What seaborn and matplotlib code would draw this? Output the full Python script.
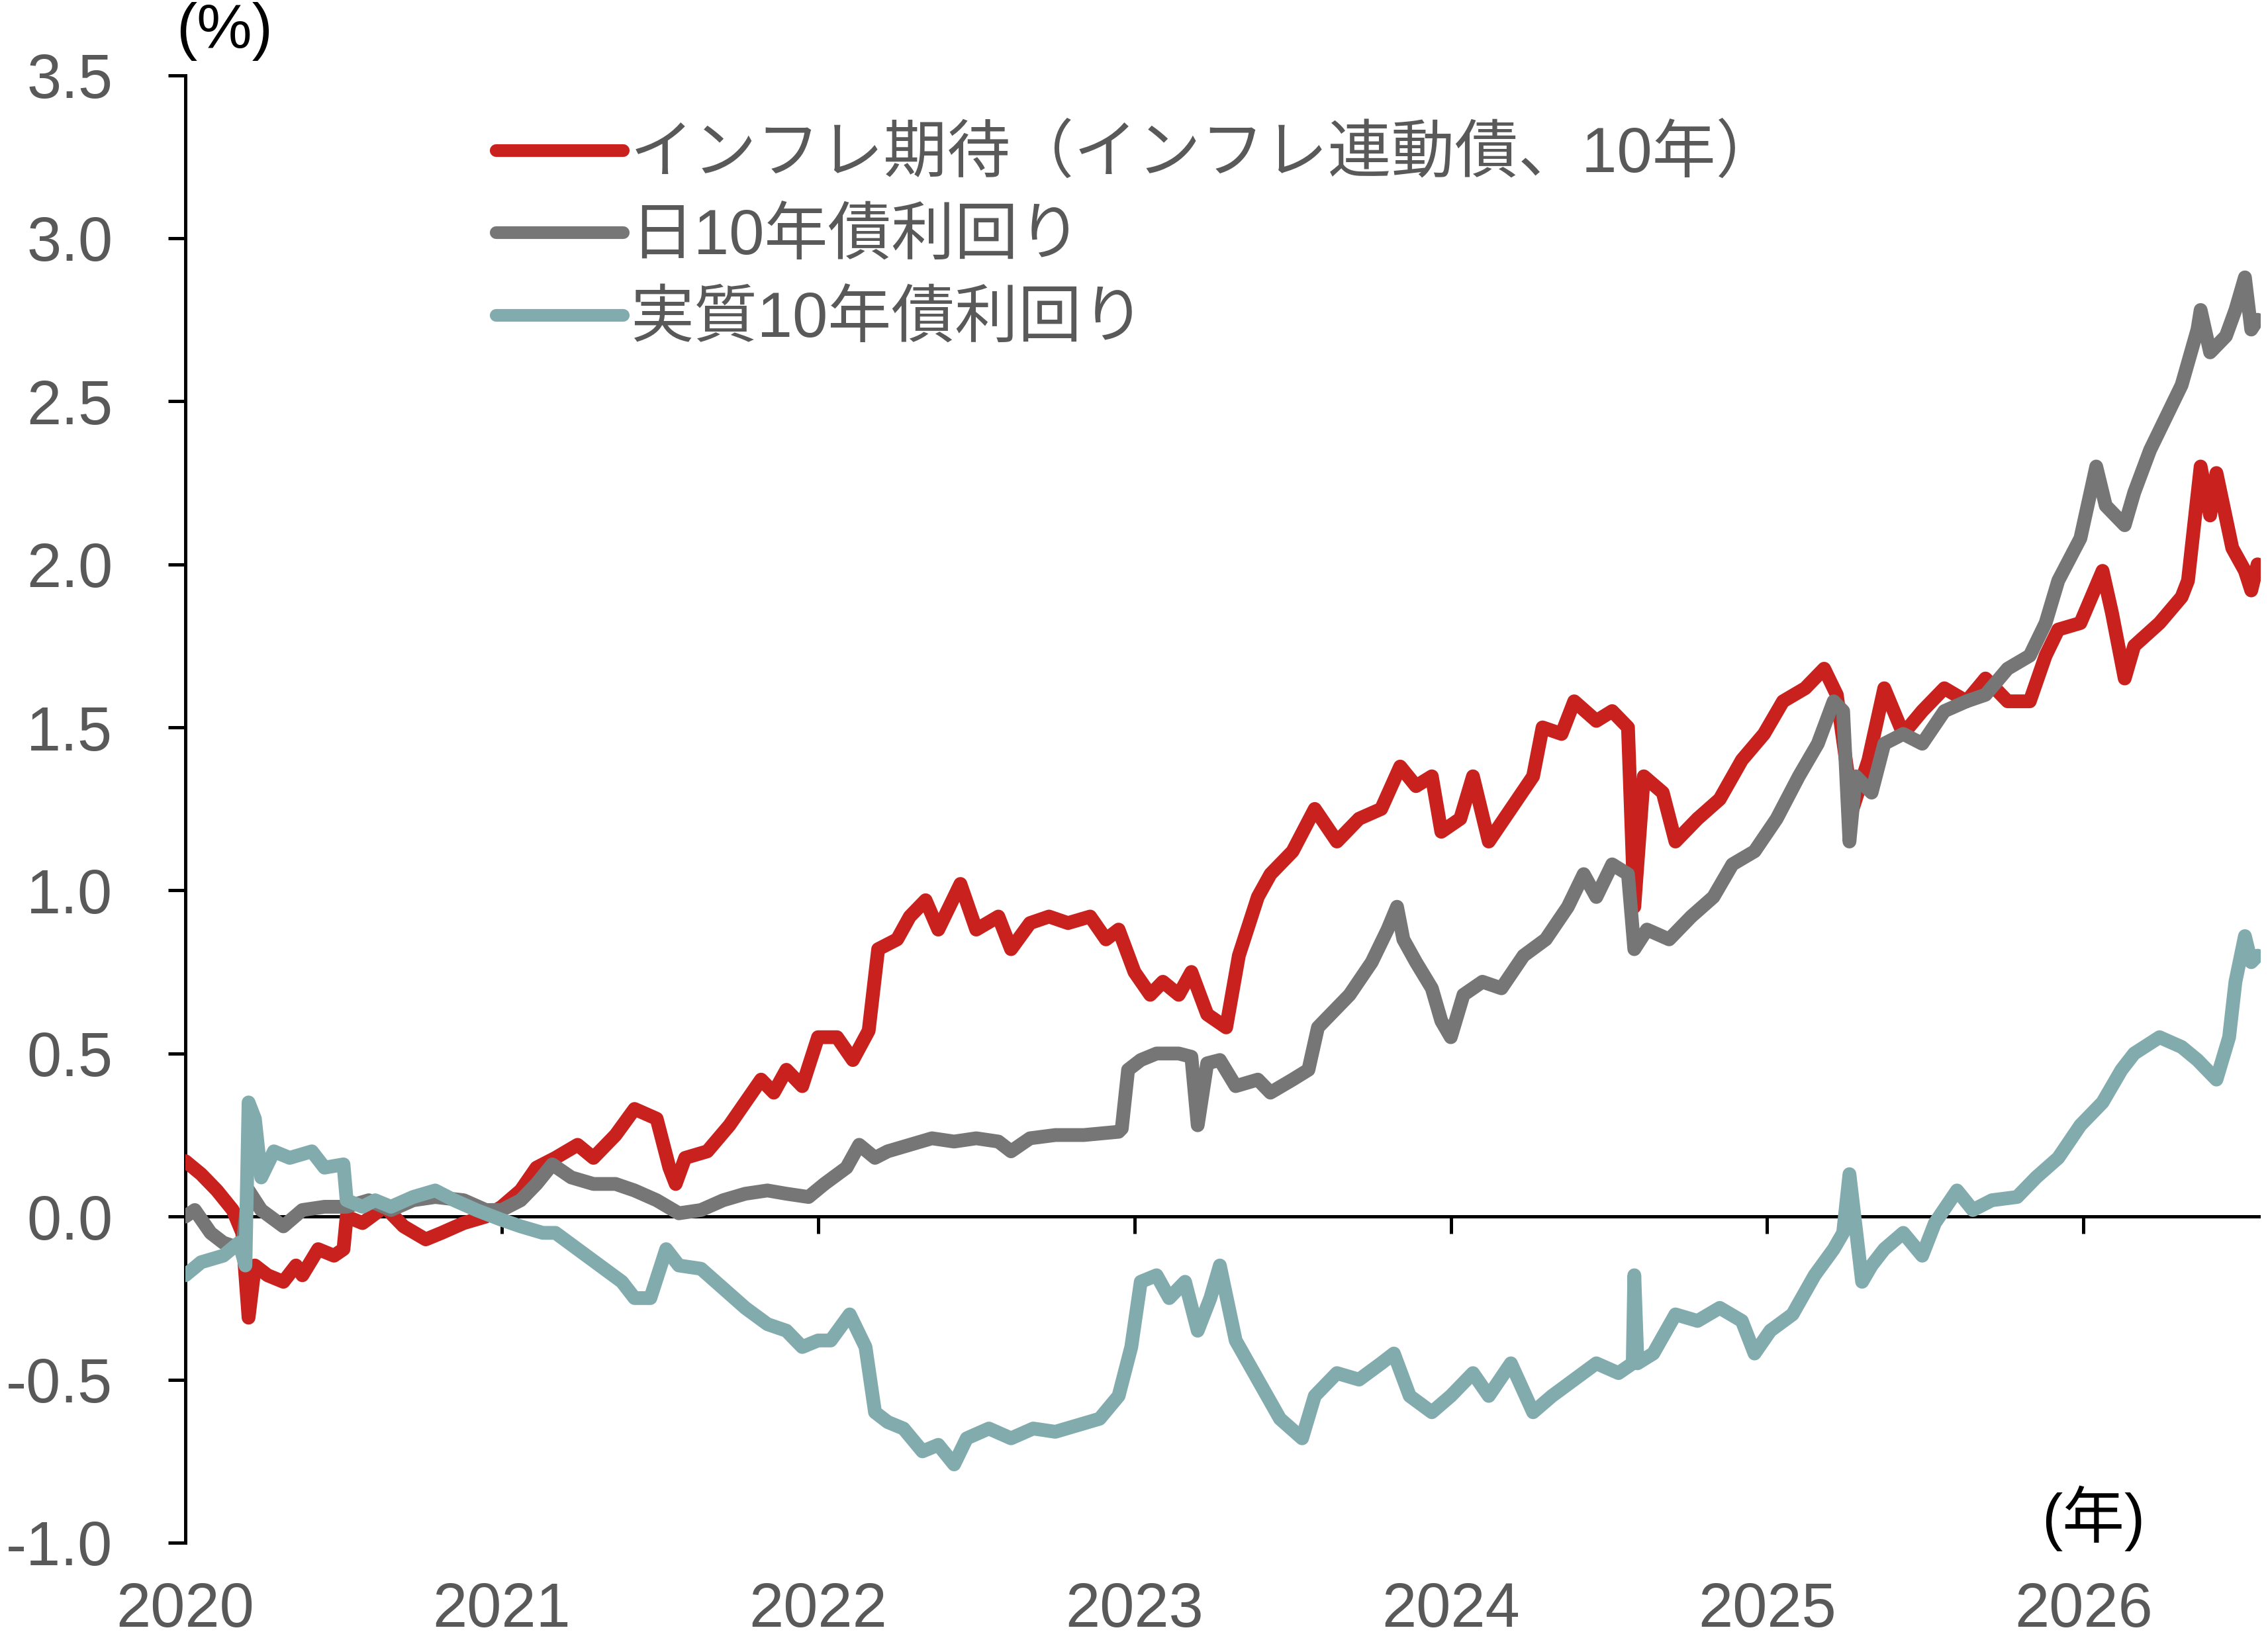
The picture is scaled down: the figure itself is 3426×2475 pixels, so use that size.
import numpy as np
import pandas as pd
import seaborn as sns
import matplotlib.pyplot as plt
import matplotlib as mpl

sns.set_style("white")
mpl.rcParams["font.family"] = ["Liberation Sans", "Noto Sans CJK JP"]
mpl.rcParams["axes.unicode_minus"] = False

# series names (legend order = draw order)
names = ["インフレ期待（インフレ連動債、10年）", "日10年債利回り", "実質10年債利回り"]
my_palette = {names[0]: "#c9211e", names[1]: "#767676", names[2]: "#82abae"}

# inflation expectation (BEI)
bei_t = [2020.00, 2020.05, 2020.10, 2020.15, 2020.18, 2020.20, 2020.22, 2020.26, 2020.31, 2020.35,
         2020.37, 2020.42, 2020.47, 2020.50, 2020.51, 2020.56, 2020.63, 2020.69, 2020.76, 2020.81,
         2020.88, 2020.95, 2021.00, 2021.06, 2021.11, 2021.17, 2021.24, 2021.29, 2021.36, 2021.42,
         2021.49, 2021.53, 2021.55, 2021.58, 2021.65, 2021.72, 2021.77, 2021.82, 2021.86, 2021.90,
         2021.95, 2022.00, 2022.06, 2022.11, 2022.16, 2022.19, 2022.25, 2022.29, 2022.34, 2022.38,
         2022.45, 2022.50, 2022.57, 2022.61, 2022.67, 2022.73, 2022.79, 2022.86, 2022.91, 2022.95,
         2023.00, 2023.05, 2023.09, 2023.14, 2023.18, 2023.23, 2023.29, 2023.33, 2023.39, 2023.43,
         2023.50, 2023.57, 2023.64, 2023.71, 2023.78, 2023.84, 2023.89, 2023.94, 2023.97, 2024.03,
         2024.07, 2024.12, 2024.19, 2024.26, 2024.29, 2024.35, 2024.39, 2024.46, 2024.51, 2024.56,
         2024.58, 2024.61, 2024.67, 2024.71, 2024.78, 2024.85, 2024.92, 2024.99, 2025.05, 2025.12,
         2025.18, 2025.22, 2025.27, 2025.32, 2025.37, 2025.43, 2025.49, 2025.56, 2025.63, 2025.69,
         2025.76, 2025.83, 2025.88, 2025.92, 2025.99, 2026.06, 2026.09, 2026.13, 2026.16, 2026.24,
         2026.31, 2026.33, 2026.37, 2026.40, 2026.42, 2026.47, 2026.51, 2026.53, 2026.55]
bei_v = [0.17, 0.13, 0.08, 0.02, -0.05, -0.31, -0.15, -0.18, -0.20, -0.15,
         -0.18, -0.10, -0.12, -0.10, 0.00, -0.02, 0.03, -0.03, -0.07, -0.05,
         -0.02, 0.00, 0.03, 0.08, 0.15, 0.18, 0.22, 0.18, 0.25, 0.33,
         0.30, 0.15, 0.10, 0.18, 0.20, 0.28, 0.35, 0.42, 0.38, 0.45,
         0.40, 0.55, 0.55, 0.48, 0.57, 0.82, 0.85, 0.92, 0.97, 0.88,
         1.02, 0.88, 0.92, 0.82, 0.90, 0.92, 0.90, 0.92, 0.85, 0.88,
         0.75, 0.68, 0.72, 0.68, 0.75, 0.62, 0.58, 0.80, 0.98, 1.05,
         1.12, 1.25, 1.15, 1.22, 1.25, 1.38, 1.32, 1.35, 1.18, 1.22,
         1.35, 1.15, 1.25, 1.35, 1.50, 1.48, 1.58, 1.52, 1.55, 1.50,
         0.95, 1.35, 1.30, 1.15, 1.22, 1.28, 1.40, 1.48, 1.58, 1.62,
         1.68, 1.60, 1.25, 1.40, 1.62, 1.48, 1.55, 1.62, 1.58, 1.65,
         1.58, 1.58, 1.72, 1.80, 1.82, 1.98, 1.85, 1.65, 1.75, 1.82,
         1.90, 1.95, 2.30, 2.15, 2.28, 2.05, 1.98, 1.92, 2.00]

# nominal 10y JGB yield
jgb_t = [2020.00, 2020.03, 2020.08, 2020.12, 2020.18, 2020.20, 2020.24, 2020.31, 2020.37, 2020.44,
         2020.51, 2020.58, 2020.65, 2020.72, 2020.79, 2020.88, 2020.95, 2021.00, 2021.06, 2021.11,
         2021.16, 2021.22, 2021.29, 2021.36, 2021.42, 2021.49, 2021.56, 2021.63, 2021.70, 2021.77,
         2021.84, 2021.90, 2021.97, 2022.02, 2022.09, 2022.13, 2022.18, 2022.22, 2022.29, 2022.36,
         2022.43, 2022.50, 2022.57, 2022.61, 2022.67, 2022.75, 2022.84, 2022.95, 2022.96, 2022.98,
         2023.02, 2023.07, 2023.14, 2023.18, 2023.20, 2023.23, 2023.27, 2023.32, 2023.39, 2023.43,
         2023.50, 2023.55, 2023.58, 2023.62, 2023.68, 2023.75, 2023.80, 2023.83, 2023.85, 2023.89,
         2023.94, 2023.97, 2024.00, 2024.04, 2024.10, 2024.16, 2024.23, 2024.30, 2024.37, 2024.42,
         2024.46, 2024.51, 2024.56, 2024.58, 2024.62, 2024.69, 2024.76, 2024.83, 2024.89, 2024.96,
         2025.03, 2025.10, 2025.16, 2025.21, 2025.24, 2025.26, 2025.28, 2025.33, 2025.37, 2025.43,
         2025.49, 2025.56, 2025.63, 2025.69, 2025.76, 2025.83, 2025.88, 2025.92, 2025.99, 2026.04,
         2026.07, 2026.13, 2026.16, 2026.21, 2026.26, 2026.31, 2026.36, 2026.37, 2026.40, 2026.45,
         2026.48, 2026.51, 2026.53, 2026.55]
jgb_v = [0.00, 0.02, -0.05, -0.08, -0.10, 0.08, 0.02, -0.03, 0.02, 0.03,
         0.03, 0.05, 0.02, 0.05, 0.06, 0.05, 0.02, 0.02, 0.05, 0.10,
         0.16, 0.12, 0.10, 0.10, 0.08, 0.05, 0.01, 0.02, 0.05, 0.07,
         0.08, 0.07, 0.06, 0.10, 0.15, 0.22, 0.18, 0.20, 0.22, 0.24,
         0.23, 0.24, 0.23, 0.20, 0.24, 0.25, 0.25, 0.26, 0.27, 0.45,
         0.48, 0.50, 0.50, 0.49, 0.28, 0.47, 0.48, 0.40, 0.42, 0.38,
         0.42, 0.45, 0.58, 0.62, 0.68, 0.78, 0.88, 0.95, 0.85, 0.78,
         0.70, 0.60, 0.55, 0.68, 0.72, 0.70, 0.80, 0.85, 0.95, 1.05,
         0.98, 1.08, 1.05, 0.82, 0.88, 0.85, 0.92, 0.98, 1.08, 1.12,
         1.22, 1.35, 1.45, 1.58, 1.55, 1.15, 1.35, 1.30, 1.45, 1.48,
         1.45, 1.55, 1.58, 1.60, 1.68, 1.72, 1.82, 1.95, 2.08, 2.30,
         2.18, 2.12, 2.22, 2.35, 2.45, 2.55, 2.72, 2.78, 2.65, 2.70,
         2.78, 2.88, 2.72, 2.75]

# real 10y yield
real_t = [2020.00, 2020.05, 2020.12, 2020.17, 2020.19, 2020.20, 2020.22, 2020.24, 2020.28, 2020.33,
          2020.40, 2020.44, 2020.50, 2020.51, 2020.56, 2020.60, 2020.65, 2020.72, 2020.79, 2020.85,
          2020.92, 2021.00, 2021.06, 2021.13, 2021.17, 2021.24, 2021.31, 2021.38, 2021.42, 2021.47,
          2021.52, 2021.56, 2021.63, 2021.70, 2021.77, 2021.84, 2021.90, 2021.95, 2022.00, 2022.04,
          2022.10, 2022.15, 2022.18, 2022.22, 2022.27, 2022.33, 2022.38, 2022.43, 2022.47, 2022.54,
          2022.61, 2022.68, 2022.75, 2022.82, 2022.89, 2022.95, 2022.99, 2023.02, 2023.07, 2023.11,
          2023.16, 2023.20, 2023.24, 2023.27, 2023.32, 2023.39, 2023.46, 2023.53, 2023.57, 2023.64,
          2023.71, 2023.78, 2023.82, 2023.87, 2023.94, 2024.00, 2024.07, 2024.12, 2024.19, 2024.26,
          2024.32, 2024.39, 2024.46, 2024.53, 2024.575, 2024.58, 2024.59, 2024.64, 2024.71, 2024.78,
          2024.85, 2024.92, 2024.96, 2025.01, 2025.08, 2025.15, 2025.21, 2025.24, 2025.26, 2025.30,
          2025.33, 2025.37, 2025.43, 2025.49, 2025.53, 2025.60, 2025.65, 2025.71, 2025.79, 2025.85,
          2025.92, 2025.99, 2026.06, 2026.12, 2026.16, 2026.24, 2026.31, 2026.36, 2026.42, 2026.46,
          2026.48, 2026.51, 2026.53, 2026.55]
real_v = [-0.18, -0.14, -0.12, -0.08, -0.15, 0.35, 0.30, 0.12, 0.20, 0.18,
          0.20, 0.15, 0.16, 0.05, 0.03, 0.05, 0.03, 0.06, 0.08, 0.05,
          0.02, -0.01, -0.03, -0.05, -0.05, -0.10, -0.15, -0.20, -0.25, -0.25,
          -0.10, -0.15, -0.16, -0.22, -0.28, -0.33, -0.35, -0.40, -0.38, -0.38,
          -0.30, -0.40, -0.60, -0.63, -0.65, -0.72, -0.70, -0.76, -0.68, -0.65,
          -0.68, -0.65, -0.66, -0.64, -0.62, -0.55, -0.40, -0.20, -0.18, -0.25,
          -0.20, -0.35, -0.25, -0.15, -0.38, -0.50, -0.62, -0.68, -0.55, -0.48,
          -0.50, -0.45, -0.42, -0.55, -0.60, -0.55, -0.48, -0.55, -0.45, -0.60,
          -0.55, -0.50, -0.45, -0.48, -0.45, -0.18, -0.45, -0.42, -0.30, -0.32,
          -0.28, -0.32, -0.42, -0.35, -0.30, -0.18, -0.10, -0.05, 0.13, -0.20,
          -0.15, -0.10, -0.05, -0.12, -0.02, 0.08, 0.02, 0.05, 0.06, 0.12,
          0.18, 0.28, 0.35, 0.45, 0.50, 0.55, 0.52, 0.48, 0.42, 0.55,
          0.72, 0.86, 0.78, 0.80]

year_ticks = [2020, 2021, 2022, 2023, 2024, 2025, 2026]
y_ticks = [-1.0, -0.5, 0.0, 0.5, 1.0, 1.5, 2.0, 2.5, 3.0, 3.5]

df = pd.concat([
    pd.DataFrame({"Year": bei_t, "Value": bei_v, "Series": names[0]}),
    pd.DataFrame({"Year": jgb_t, "Value": jgb_v, "Series": names[1]}),
    pd.DataFrame({"Year": real_t, "Value": real_v, "Series": names[2]}),
], ignore_index=True)

fig = plt.figure(figsize=(11.42, 8.25), dpi=300)
ax = fig.add_axes([0.0817, 0.0582, 0.9151, 0.8959])

ax.axhline(0, color="black", linewidth=1.2, zorder=1)

sns.lineplot(
    data=df, x="Year", y="Value", hue="Series", hue_order=names,
    palette=my_palette, estimator=None, sort=False, linewidth=5.0,
    solid_capstyle="round", solid_joinstyle="round", ax=ax, zorder=3,
)

ax.set_xlim(2020, 2026.56)
ax.set_ylim(-1.0, 3.5)
ax.set_yticks(y_ticks)
ax.set_yticklabels([f"{v:.1f}" for v in y_ticks])
ax.set_xticks(year_ticks)
ax.set_xticklabels([str(y) for y in year_ticks])
ax.set_xlabel("")
ax.set_ylabel("")

for s in ["top", "right", "bottom"]:
    ax.spines[s].set_visible(False)
ax.spines["left"].set_color("black")
ax.spines["left"].set_linewidth(1.2)

ax.tick_params(axis="y", direction="out", length=6.3, width=1.2, color="black",
               labelsize=22.5, labelcolor="#595959", pad=20, left=True)
ax.tick_params(axis="x", length=0, labelsize=22.5, labelcolor="#595959", pad=14)

# tick marks on the zero line
sec = ax.secondary_xaxis(1.0 / 4.5)
sec.set_xticks(year_ticks)
sec.set_xticklabels([])
sec.spines["bottom"].set_visible(False)
sec.spines["top"].set_visible(False)
sec.tick_params(axis="x", direction="out", length=6.3, width=1.2, color="black")

leg = ax.legend(loc="upper left", bbox_to_anchor=(0.1496, 0.966), frameon=False,
                borderpad=0, borderaxespad=0, handlelength=2.0, handletextpad=0.12,
                labelspacing=0.36, fontsize=23)
for t in leg.get_texts():
    t.set_color("#595959")
for h in leg.get_lines():
    h.set_linewidth(4.6)
    h.set_solid_capstyle("round")

fig.text(339 / 3426, 1 - 48 / 2475, "(%)", ha="center", va="center", fontsize=22.5, color="black")
fig.text(3162 / 3426, 1 - 2294 / 2475, "(年)", ha="center", va="center", fontsize=22.5, color="black")

fig.savefig("out.png", dpi=300)
